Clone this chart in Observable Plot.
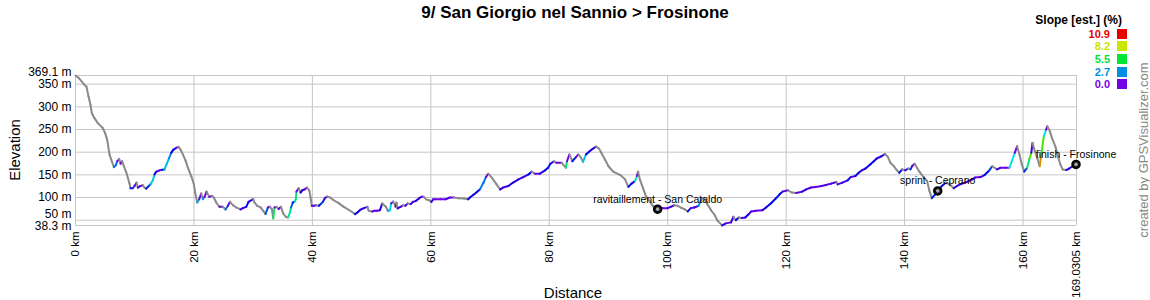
<!DOCTYPE html>
<html><head><meta charset="utf-8">
<script src="https://cdn.jsdelivr.net/npm/d3@7"></script>
<script src="https://cdn.jsdelivr.net/npm/@observablehq/plot@0.6"></script>
<style>
body{margin:0;background:#fff;font-family:"Liberation Sans",Arial,sans-serif;}
#wrap{position:relative;width:1150px;height:300px;overflow:hidden}
#chart{position:absolute;left:0;top:0}
.ov{position:absolute;white-space:nowrap;line-height:1}
</style></head><body>
<div id="wrap">
<div id="chart"></div>
<div class="ov" style="left:0;width:1150px;top:4px;text-align:center;font-weight:bold;font-size:17px">9/ San Giorgio nel Sannio &gt; Frosinone</div>
<div class="ov" style="left:14px;top:150px;font-size:15px;transform:translate(-50%,-50%) rotate(-90deg)">Elevation</div>
<div class="ov" style="left:573px;top:292px;font-size:15px;transform:translate(-50%,-50%)">Distance</div>
<div class="ov" style="left:1143px;top:150px;font-size:13px;color:#888;transform:translate(-50%,-50%) rotate(-90deg)">created by GPSVisualizer.com</div>
<div id="legend"></div>
</div>
<script>
const distKm = [0,0.62,1.41,1.86,2.2,2.53,2.76,3.2,3.77,4.62,5.0,5.35,5.74,6.02,6.48,6.81,7.04,7.38,7.6,7.88,8.16,8.56,8.84,9.12,9.29,9.68,9.97,10.3,10.53,10.98,11.37,11.66,11.94,12.22,12.67,13.06,13.34,13.63,14.19,14.64,15.03,15.37,15.77,16.16,16.5,17.0,17.4,17.74,18.13,18.58,18.98,19.54,19.99,20.21,20.55,20.89,21.23,21.51,21.79,22.13,22.58,23.03,23.37,23.76,24.32,24.89,25.34,25.73,26.07,26.58,27.14,27.87,28.27,28.83,29.22,30.01,30.24,30.69,31.25,31.7,32.09,32.49,32.83,33.16,33.39,33.6,33.9,34.3,34.7,35.07,35.5,35.9,36.2,36.4,36.7,37.0,37.2,37.3,37.7,38.0,38.3,38.7,39.1,39.5,39.7,39.9,40.25,40.7,41.1,41.4,41.8,42.1,42.5,43.0,43.6,44.5,45.3,46.4,47.2,47.6,48.1,48.7,49.3,49.5,50.1,50.5,50.9,51.4,51.8,52.4,52.75,53.1,53.3,53.65,54.05,54.2,54.4,54.9,55.3,55.7,56.1,56.6,57.0,57.5,58.0,58.4,58.8,59.2,59.7,60.1,60.4,60.8,61.6,62.5,63.2,63.9,64.7,65.6,66.3,66.6,67.2,67.7,68.3,68.9,69.3,69.7,70.3,71.1,71.7,72.2,73.1,73.9,74.8,75.6,76.5,77.0,77.6,78.4,79.3,79.8,80.2,80.8,81.2,82.1,82.8,83.0,83.4,83.9,84.5,84.9,85.3,85.7,86.2,86.8,87.3,87.9,88.4,88.8,89.4,90.0,90.8,92.0,92.8,93.35,93.9,94.5,94.8,95.0,95.3,95.8,96.3,96.9,97.5,97.9,98.3,99.14,100.0,100.5,101.1,101.7,102.2,102.8,103.4,103.9,104.5,105.2,105.8,106.2,106.7,107.3,107.9,108.4,109.2,109.8,110.7,111.1,111.5,112.0,112.5,113.1,113.7,114.1,114.9,116.0,116.6,117.4,118.3,118.9,119.4,120.3,121.0,121.7,122.7,123.4,124.2,125.0,126.0,126.7,127.6,128.5,128.7,129.5,130.4,130.9,131.7,132.25,132.8,133.4,134.2,134.8,135.3,136.1,136.7,137.2,137.6,138.2,138.7,139.1,139.6,140.1,140.6,141.0,141.25,141.7,142.1,142.5,143.2,143.8,144.2,144.6,145.1,145.6,146.3,147.0,147.7,148.3,148.85,149.7,150.5,151.4,151.9,152.8,153.5,154.2,154.8,155.2,155.6,156.2,157.0,157.7,158.1,158.6,159.0,159.4,159.8,160.2,160.7,161.1,161.4,161.6,162.0,162.4,162.8,163.1,163.5,163.9,164.1,164.5,164.9,165.5,165.9,166.3,166.7,167.3,167.8,168.4,168.95,169.0305];
const elevM = [369.1,362.8,350,344.5,322.6,304.4,286,275,264,253,242,227.7,195,184,167,171.5,180,184.7,174.5,180,169.3,156.2,143.8,130.6,120.4,120.4,125.5,132.8,121.9,125.5,127,121.9,119.7,123.4,129.2,138,151,156.9,159.9,161.3,162,173,186,198.5,205,209.5,211.7,205.8,195,181.8,165.7,147.4,129.2,110.9,89,96.3,108.8,96.3,101.5,113.1,101.5,103.6,100,89,79.5,79.5,73.7,81.7,90.5,83.2,78.1,73.7,76.6,79.5,90.5,96.3,89,81.7,78.1,70.8,63.5,78.1,79.5,74.4,54,78,79.5,74.5,79.5,65,57.6,56,67,78,89,91,96,113,120.4,111,116,118,122,114.6,100,81.7,81.7,83,81.7,85.4,91,98.5,102,100,94,87,79.5,70.8,63.5,67,73,76.6,79.5,70.8,69.3,70.8,70.8,72,87,79.5,70.8,72,87,91,79.5,88.3,76,79.5,83,81.7,87,85.4,90.5,92.7,98,101.5,101.5,96,94,90.5,96,96,96,96,100,100,98.5,98,96,100,106,111,118,133,145,152.5,144,129,118,122,125.5,133,140,145,151,157,152.5,152.5,160,165.7,174.5,180,176.6,176.6,165.7,180,195,180,189,195,189,178.8,195,202,207,212.4,208,198.5,184,169,157,149.6,140,123.4,130.7,136.5,147.4,157,140,122,103.6,92.7,81.7,78,74.4,76.6,76.6,79.5,83,81.7,78,74.4,69.3,76.6,78,81.7,98.5,96,85.4,72.3,62,49,38.5,43,45.2,57.6,50,56,54.7,56,63.5,69.3,70.8,72,78,87,98.5,107,113,116,111,110,113,118,122,123.4,125.5,127.7,130.7,134.3,129,132.8,138,145,147.4,154.7,160,164,173,180,186,191,196,189,176.6,169,160,154.7,162,160,164,162,169,174.5,165.7,157,145,136.5,114.6,98.5,106,114.6,125.5,133,128,120.4,125.5,130.7,134.3,140,144,145,149.6,158.4,169,165.7,162,165.7,165.7,165.7,180,198.5,213,195,173,157,165.7,186,198.5,220.4,202,187.6,169,195,235,249.6,257,247.5,231,211,191,173,162,160.6,164,169,173,173];

const yTicks = [38.3,50,100,150,200,250,300,350,369.1];
const xTicks = [0,20,40,60,80,100,120,140,160,169.0305];

const markerKm = [98.3,145.6,168.95];
const markerElev = [74.4,114.6,173];
const markerName = ["ravitaillement - San Cataldo","sprint - Ceprano","finish - Frosinone"];

const legendSlopes = [10.9,8.2,5.5,2.7,0.0];
const maxSlope = 10.9;

const slopeColor = s => d3.hsl(270 - 270 * Math.min(Math.max(s, 0), maxSlope) / maxSlope, 1, 0.45).formatHex();

// estimated slope over a short window (at least 0.5 km) around each rising segment
const n = distKm.length;
const segs = [];
for (let i = 0; i < n - 1; i++) {
  let a = i, b = i + 1, turn = 0;
  while (distKm[b] - distKm[a] < 0.5 && (a > 0 || b < n - 1)) {
    if ((turn++ % 2 === 0 && b < n - 1) || a === 0) b++; else a--;
  }
  const est = (elevM[b] - elevM[a]) / ((distKm[b] - distKm[a]) * 10);
  const own = elevM[i+1] - elevM[i];
  segs.push({x1: distKm[i], y1: elevM[i], x2: distKm[i+1], y2: elevM[i+1],
    color: own < 0 ? "#8a8a8a" : slopeColor(est)});
}
const markers = markerKm.map((k, i) => ({km: k, elev: markerElev[i], name: markerName[i]}));

const yMain = yTicks.filter(t => t !== 369.1 && t !== 50 && t !== 38.3);
const yFmt = d => d + " m";

const chart = Plot.plot({
  width: 1150, height: 300,
  marginLeft: 75, marginRight: 74, marginTop: 75, marginBottom: 75,
  style: {fontFamily: "Liberation Sans, Arial, sans-serif", fontSize: "12px", background: "transparent", color: "#000"},
  x: {domain: [0, 169.0305]},
  y: {domain: [38.3, 369.1]},
  color: {type: "identity"},
  marks: [
    Plot.gridY(yTicks, {stroke: "#c6c6c6", strokeOpacity: 1}),
    Plot.gridX(xTicks, {stroke: "#c6c6c6", strokeOpacity: 1}),
    Plot.axisY(yMain, {tickSize: 0, tickPadding: 4, tickFormat: yFmt, label: null, fontSize: 12}),
    Plot.axisY([369.1], {tickSize: 0, tickPadding: 4, tickFormat: yFmt, label: null, fontSize: 12, dy: -3}),
    Plot.axisY([50], {tickSize: 0, tickPadding: 4, tickFormat: yFmt, label: null, fontSize: 12, dy: -6}),
    Plot.axisY([38.3], {tickSize: 0, tickPadding: 4, tickFormat: yFmt, label: null, fontSize: 12, dy: 1}),
    Plot.axisX(xTicks, {tickSize: 0, tickPadding: 6, tickRotate: -90, tickFormat: d => d + " km", label: null, fontSize: 11.5}),
    Plot.link(segs, {x1: "x1", y1: "y1", x2: "x2", y2: "y2", stroke: "color", strokeWidth: 2, strokeLinecap: "round"}),
    Plot.dot(markers, {x: "km", y: "elev", r: 4, fill: "#111", stroke: "#000"}),
    Plot.dot(markers, {x: "km", y: "elev", r: 1.8, fill: "#aaa"}),
    Plot.text(markers, {x: "km", y: "elev", text: "name", dy: -10, fontSize: 10.5, fill: "#000"})
  ]
});
document.getElementById("chart").appendChild(chart);

// legend
const lg = document.getElementById("legend");
const head = document.createElement("div");
head.className = "ov";
head.style.cssText = "right:28px;top:14px;font-weight:bold;font-size:12px";
head.textContent = "Slope [est.] (%)";
lg.appendChild(head);
const rowTops = [28.7, 41.3, 53.9, 66.5, 79.1];
legendSlopes.forEach((s, i) => {
  const c = slopeColor(s);
  const t = document.createElement("div");
  t.className = "ov";
  t.style.cssText = `right:40px;top:${rowTops[i]}px;height:10px;line-height:10px;font-weight:bold;font-size:11px;color:${c}`;
  t.textContent = s.toFixed(1);
  lg.appendChild(t);
  const sq = document.createElement("div");
  sq.className = "ov";
  sq.style.cssText = `left:1117px;top:${rowTops[i]}px;width:10px;height:10px;background:${c}`;
  lg.appendChild(sq);
});
</script>
</body></html>
